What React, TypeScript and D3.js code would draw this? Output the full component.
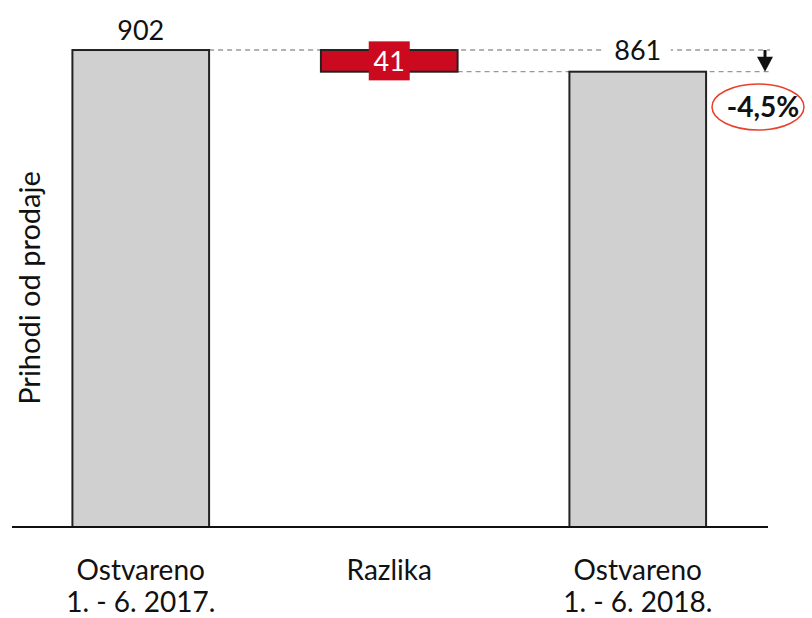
import React from "react";
import * as d3 from "d3";

const categories = ["a", "b", "c"];
const labelLines = [["Ostvareno", "1. - 6. 2017."], ["Razlika"], ["Ostvareno", "1. - 6. 2018."]];
const startValues = [0, 861, 0];
const endValues = [902, 902, 861];
const valueLabels = ["902", "41", "861"];
const changeLabel = "-4,5%";
const yTitle = "Prihodi od prodaje";

const W = 812, H = 618;
const font = "Lato, 'Open Sans', sans-serif";

export default function App() {
  const x = d3.scaleBand<string>().domain(categories).range([16.5, 762]).paddingInner(0.45).paddingOuter(0.225);
  const y = d3.scaleLinear().domain([0, 1000]).range([527, 527 - 528.8]);
  const bw = x.bandwidth();
  const c = (i: number) => (x(categories[i]) as number) + bw / 2;
  const yTop = y(endValues[0]);
  const yEnd = y(endValues[2]);
  const arrowX = 765;
  return (
    <svg width={W} height={H} style={{ position: "absolute", left: 0, top: 0, fontFamily: font }}>
      <rect width={W} height={H} fill="#fff" />
      {/* dashed connectors */}
      <line x1={x(categories[0])! + bw} x2={arrowX + 5} y1={yTop} y2={yTop} stroke="#666" strokeWidth={1.2} strokeDasharray="5,4" />
      <line x1={x(categories[1])! + bw} x2={arrowX + 5} y1={yEnd} y2={yEnd} stroke="#999" strokeWidth={1.2} strokeDasharray="5,4" />
      {categories.map((k, i) => {
        const isDiff = i === 1;
        return (
          <rect key={k} x={x(k)} width={bw} y={y(endValues[i])} height={y(startValues[i]) - y(endValues[i])}
            fill={isDiff ? "#cc0a1f" : "#d0d0d0"} stroke="#222" strokeWidth={2} />
        );
      })}
      {/* value labels */}
      <text x={c(0)} y={yTop - 10} textAnchor="middle" fontSize={27} fill="#111">{valueLabels[0]}</text>
      <rect x={c(1) - 20.5} y={(yTop + yEnd) / 2 - 19.5} width={41} height={39} fill="#cc0a1f" />
      <text x={c(1)} y={(yTop + yEnd) / 2 + 10} textAnchor="middle" fontSize={27} fill="#fff">{valueLabels[1]}</text>
      <rect x={c(2) - 33} y={yTop - 16} width={66} height={30} fill="#fff" />
      <text x={c(2)} y={yTop + 10} textAnchor="middle" fontSize={27} fill="#111">{valueLabels[2]}</text>
      {/* arrow */}
      <line x1={arrowX} x2={arrowX} y1={yTop} y2={yEnd - 12} stroke="#111" strokeWidth={3} />
      <path d={`M${arrowX - 8},${yEnd - 15} L${arrowX + 8},${yEnd - 15} L${arrowX},${yEnd} Z`} fill="#111" />
      {/* percentage */}
      <ellipse cx={758} cy={107} rx={46} ry={23} fill="none" stroke="#e8402a" strokeWidth={1.5} />
      <text x={763} y={117} textAnchor="middle" fontSize={28} fontWeight="bold" fill="#111">{changeLabel}</text>
      {/* axis */}
      <line x1={12} x2={768} y1={527} y2={527} stroke="#111" strokeWidth={2} />
      {categories.map((k, i) => (
        <text key={k} x={c(i)} textAnchor="middle" fontSize={28} fill="#111">
          {labelLines[i].map((l, j) => (
            <tspan key={j} x={c(i)} y={580 + j * 32}>{l}</tspan>
          ))}
        </text>
      ))}
      <text transform={`translate(40,${288}) rotate(-90)`} textAnchor="middle" fontSize={29} fill="#111">{yTitle}</text>
    </svg>
  );
}
